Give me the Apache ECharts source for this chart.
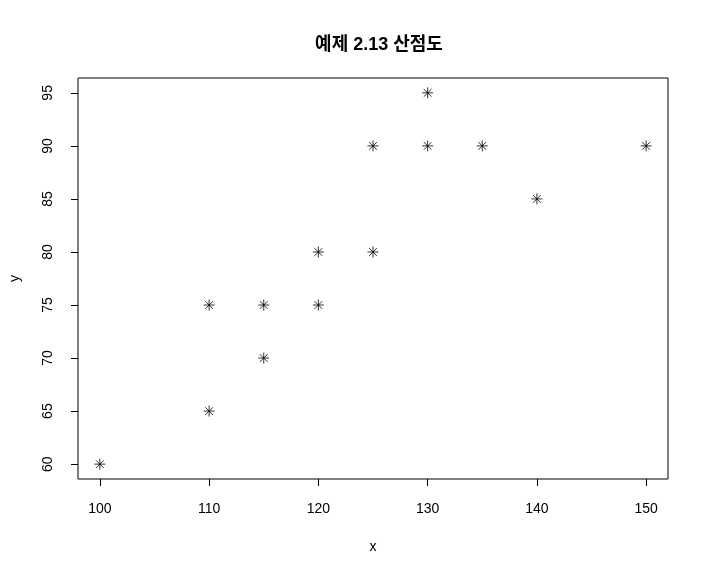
<!DOCTYPE html>
<html>
<head>
<meta charset="utf-8">
<script src="https://cdn.jsdelivr.net/npm/echarts@6/dist/echarts.min.js"></script>
<style>html,body{margin:0;padding:0;background:#fff}#c{width:709px;height:577px}</style>
</head>
<body>
<div id="c"></div>
<script>
const xValues = [100, 110, 110, 115, 115, 120, 120, 125, 125, 130, 130, 135, 140, 150];
const yValues = [60, 75, 65, 75, 70, 80, 75, 90, 80, 95, 90, 90, 85, 90];
const xTicks = [100, 110, 120, 130, 140, 150];
const yTicks = [60, 65, 70, 75, 80, 85, 90, 95];
const titleText = '예제 2.13 산점도';

const font = 'Liberation Sans, Arial, Noto Sans CJK KR, sans-serif';
const points = xValues.map((x, i) => [x, yValues[i]]);
const chart = echarts.init(document.getElementById('c'));
chart.setOption({
  animation: false,
  backgroundColor: '#fff',
  title: {
    text: titleText, left: 374, top: 31, textAlign: 'center',
    textStyle: { fontFamily: 'Liberation Sans, Noto Sans CJK KR, sans-serif', fontSize: 18, fontWeight: 'bold', color: '#000' }
  },
  grid: { left: 78, right: 41, top: 78, bottom: 98, show: true, borderColor: '#000', borderWidth: 1, backgroundColor: 'transparent' },
  xAxis: {
    type: 'value', min: 98, max: 152,
    name: 'x', nameLocation: 'middle', nameGap: 61,
    nameTextStyle: { fontFamily: font, fontSize: 14, color: '#000' },
    axisLine: { show: false },
    splitLine: { show: false },
    axisTick: { show: true, length: 7, customValues: xTicks, lineStyle: { color: '#000', width: 1 } },
    axisLabel: { customValues: xTicks, margin: 23, fontFamily: font, fontSize: 14, color: '#000' }
  },
  yAxis: {
    type: 'value', min: 58.6, max: 96.4,
    name: 'y', nameLocation: 'middle', nameGap: 56, nameRotate: 90,
    nameTextStyle: { fontFamily: font, fontSize: 14, color: '#000' },
    axisLine: { show: false },
    splitLine: { show: false },
    axisTick: { show: true, length: 7, customValues: yTicks, lineStyle: { color: '#000', width: 1 } },
    axisLabel: { customValues: yTicks, rotate: 90, margin: 23, fontFamily: font, fontSize: 14, color: '#000' }
  },
  series: [{
    type: 'scatter',
    data: points,
    symbol: 'path://M0,-10L0,10M-10,0L10,0M-7,-7L7,7M-7,7L7,-7',
    symbolSize: 11,
    itemStyle: { color: 'none', borderColor: '#000', borderWidth: 1 }
  }]
});
</script>
</body>
</html>
